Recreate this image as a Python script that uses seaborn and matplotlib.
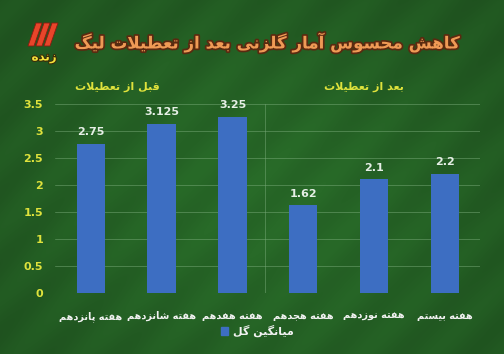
import numpy as np
import pandas as pd
import matplotlib
matplotlib.use("Agg")
import matplotlib.pyplot as plt
import matplotlib.patheffects as pe
from matplotlib.patches import Patch, Polygon
import seaborn as sns

# ---- data ----
weeks = ["هفته پانزدهم", "هفته شانزدهم", "هفته هفدهم",
         "هفته هجدهم", "هفته نوزدهم", "هفته بیستم"]
avg_goals = [2.75, 3.125, 3.25, 1.62, 2.1, 2.2]
y_ticks = [0, 0.5, 1, 1.5, 2, 2.5, 3, 3.5]
title_text = "کاهش محسوس آمار گلزنی بعد از تعطیلات لیگ"
group_before = "قبل از تعطیلات"
group_after = "بعد از تعطیلات"
series_name = "میانگین گل"
logo_text = "زنده"

# ---- minimal Arabic/Persian shaping (presentation forms, visual order) ----
FORMS = {  # isolated, final, initial, medial
    "ا": (0xFE8D, 0xFE8E, None, None), "آ": (0xFE81, 0xFE82, None, None),
    "ب": (0xFE8F, 0xFE90, 0xFE91, 0xFE92), "ت": (0xFE95, 0xFE96, 0xFE97, 0xFE98),
    "ج": (0xFE9D, 0xFE9E, 0xFE9F, 0xFEA0), "ح": (0xFEA1, 0xFEA2, 0xFEA3, 0xFEA4),
    "د": (0xFEA9, 0xFEAA, None, None), "ر": (0xFEAD, 0xFEAE, None, None),
    "ز": (0xFEAF, 0xFEB0, None, None), "س": (0xFEB1, 0xFEB2, 0xFEB3, 0xFEB4),
    "ش": (0xFEB5, 0xFEB6, 0xFEB7, 0xFEB8), "ط": (0xFEC1, 0xFEC2, 0xFEC3, 0xFEC4),
    "ع": (0xFEC9, 0xFECA, 0xFECB, 0xFECC), "ف": (0xFED1, 0xFED2, 0xFED3, 0xFED4),
    "ق": (0xFED5, 0xFED6, 0xFED7, 0xFED8), "ل": (0xFEDD, 0xFEDE, 0xFEDF, 0xFEE0),
    "م": (0xFEE1, 0xFEE2, 0xFEE3, 0xFEE4), "ن": (0xFEE5, 0xFEE6, 0xFEE7, 0xFEE8),
    "ه": (0xFEE9, 0xFEEA, 0xFEEB, 0xFEEC), "و": (0xFEED, 0xFEEE, None, None),
    "ی": (0xFBFC, 0xFBFD, 0xFBFE, 0xFBFF), "ک": (0xFB8E, 0xFB8F, 0xFB90, 0xFB91),
    "گ": (0xFB92, 0xFB93, 0xFB94, 0xFB95), "پ": (0xFB56, 0xFB57, 0xFB58, 0xFB59),
}
LAM_ALEF = {"ا": (0xFEFB, 0xFEFC), "آ": (0xFEF5, 0xFEF6)}


def dual(c):
    return c in FORMS and FORMS[c][2] is not None


def shape(text):
    chars = list(text)
    out = []
    i = 0
    while i < len(chars):
        c = chars[i]
        prev = chars[i - 1] if i > 0 else None
        joins_prev = prev is not None and dual(prev) and c in FORMS
        if c == "ل" and i + 1 < len(chars) and chars[i + 1] in LAM_ALEF:
            iso, fin = LAM_ALEF[chars[i + 1]]
            out.append(chr(fin if joins_prev else iso))
            i += 2
            continue
        if c not in FORMS:
            out.append(c)
            i += 1
            continue
        nxt = chars[i + 1] if i + 1 < len(chars) else None
        joins_next = dual(c) and nxt is not None and nxt in FORMS
        iso, fin, ini, med = FORMS[c]
        if joins_prev and joins_next:
            code = med
        elif joins_prev:
            code = fin
        elif joins_next:
            code = ini
        else:
            code = iso
        out.append(chr(code))
        i += 1
    return "".join(out)[::-1]


# ---- figure & background ----
sns.set_theme(style="white")
plt.rcParams["font.family"] = ["DejaVu Sans"]
W, H = 504, 354
fig = plt.figure(figsize=(W / 100, H / 100), dpi=100)

yy, xx = np.mgrid[0:H, 0:W]
stripes = np.sin((xx + yy) * 2 * np.pi / 70.0)
glow = np.exp(-(((xx - 260) / 260.0) ** 2 + ((yy - 200) / 220.0) ** 2))
shade = 0.76 + 0.22 * glow + 0.035 * stripes
base = np.array([40, 106, 40]) / 255.0
img = np.clip(shade[..., None] * base[None, None, :], 0, 1)
bg = fig.add_axes([0, 0, 1, 1], zorder=-5)
bg.imshow(img, aspect="auto", extent=(0, 1, 0, 1), origin="upper")
bg.axis("off")

# ---- bars ----
df = pd.DataFrame({"week": [shape(w) for w in weeks], "goals": avg_goals})
ax = fig.add_axes([0.110, 0.172, 0.843, 0.535])
ax.patch.set_alpha(0)
sns.barplot(data=df, x="week", y="goals", color="#3d6ec2", saturation=1,
            width=0.4, linewidth=0, ax=ax, zorder=3)
ax.bar_label(ax.containers[0], labels=[f"{v:g}" for v in avg_goals],
             padding=5, fontsize=8, fontweight="bold", color="#e6efe6")

ax.set_ylim(0, 3.5)
ax.set_yticks(y_ticks)
ax.set_yticklabels([f"{t:g}" for t in y_ticks], fontsize=8,
                   fontweight="bold", color="#dfe23c")
ax.tick_params(axis="x", length=0, pad=13, labelsize=7, labelcolor="#f2f2f2")
ax.tick_params(axis="y", length=0, pad=9)
for lab in ax.get_xticklabels():
    lab.set_fontweight("bold")
ax.set_xlabel("")
ax.set_ylabel("")
ax.grid(axis="y", color="#78aa78", lw=0.7, alpha=0.5, zorder=0)
ax.axvline(2.46, color="#78aa78", lw=0.7, alpha=0.5, zorder=0)
for s in ax.spines.values():
    s.set_visible(False)

# group headings
trans = ax.get_xaxis_transform()
ax.text(0.37, 1.09, shape(group_before), transform=trans, ha="center",
        va="center", fontsize=8, fontweight="bold", color="#dfe23c")
ax.text(3.86, 1.09, shape(group_after), transform=trans, ha="center",
        va="center", fontsize=8, fontweight="bold", color="#dfe23c")

# legend
fig.legend(handles=[Patch(color="#3d6ec2")], labels=[shape(series_name)],
           loc="center", bbox_to_anchor=(0.51, 0.065), frameon=False,
           handlelength=0.7, handleheight=0.7, handletextpad=0.4,
           prop={"size": 8, "weight": "bold"}, labelcolor="#f2f2f2")

# title
fig.text(0.53, 0.88, shape(title_text), ha="center", va="center",
         fontsize=12, fontweight="bold", color="#ef9a55",
         path_effects=[pe.withStroke(linewidth=2.5, foreground="#5a2a10")])

# channel logo
for k in range(3):
    x0 = 28 + k * 8
    pts = [(x0, 46), (x0 + 6, 46), (x0 + 14, 23), (x0 + 8, 23)]
    fig.patches.append(Polygon([(px / W, 1 - py / H) for px, py in pts],
                               closed=True, transform=fig.transFigure,
                               facecolor="#e8452a", edgecolor="#8a1a10",
                               lw=0.6, zorder=5))
fig.text(44 / W, 1 - 57 / H, shape(logo_text), ha="center", va="center",
         fontsize=8.5, fontweight="bold", color="#f3e23a",
         path_effects=[pe.withStroke(linewidth=1.5, foreground="#3a2a08")])

fig.savefig("out.png", dpi=100)
